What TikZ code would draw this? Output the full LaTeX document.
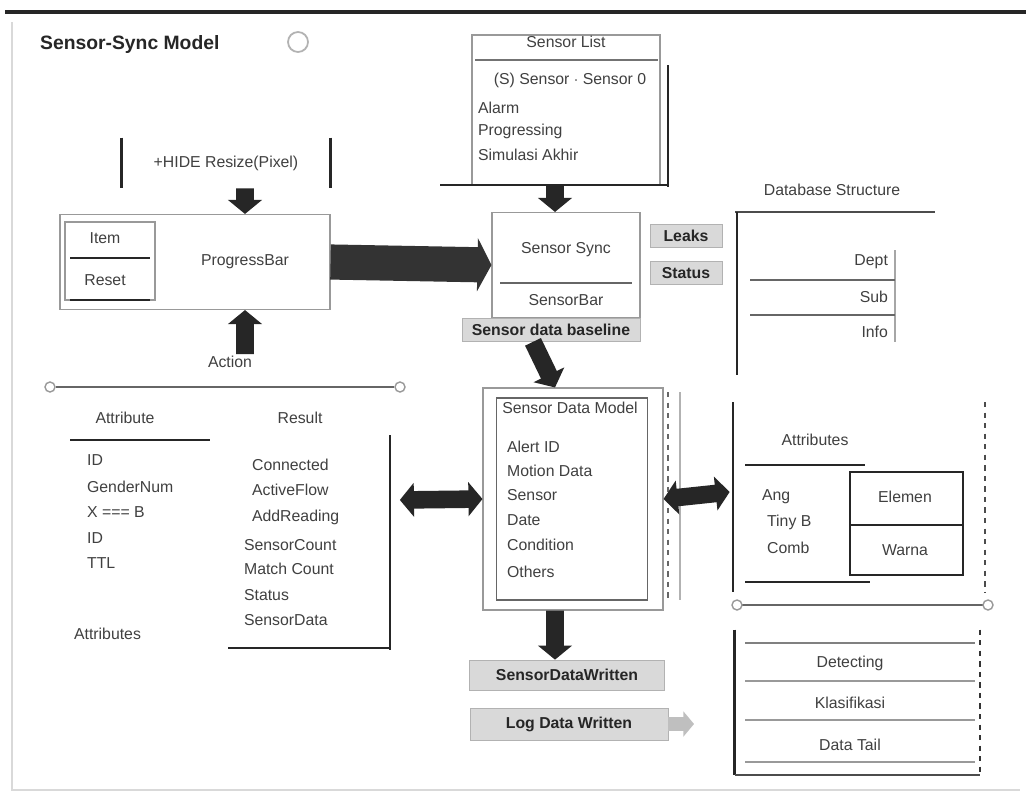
\documentclass[tikz,border=0pt]{standalone}
\usepackage{fontspec}
\setmainfont{Liberation Sans}
\usetikzlibrary{arrows.meta}
\begin{document}
\begin{tikzpicture}[x=0.2mm,y=-0.2mm,
 txt/.style={font=\fontsize{9}{10}\selectfont, inner sep=1pt, text=black!75},
 box/.style={draw=black!40, line width=0.6pt},
 fat/.style={draw=black!85, line width=10pt, -{Triangle[width=19pt,length=8pt]}},
 dfat/.style={draw=black!85, line width=10pt, {Triangle[width=19pt,length=8pt]}-{Triangle[width=19pt,length=8pt]}},
 rule/.style={draw=black!85, line width=1.4pt},
 thin/.style={draw=black!35, line width=0.6pt},
 banner/.style={fill=black!15, draw=black!30, inner sep=1pt, text=black!85, font=\fontsize{9}{10}\selectfont\bfseries},
 dot/.style={draw=black!40, line width=0.8pt},
]
\useasboundingbox (0,0) rectangle (1026,802);
\fill[white] (0,0) rectangle (1026,802);
% frame
\draw[line width=2.2pt, black!85] (5,12) -- (1026,12);
\draw[line width=1.5pt, black!15] (12,22) -- (12,790) -- (1020,790);

% title
\node[txt, anchor=west, text=black!85, font=\fontsize{11}{12}\selectfont\bfseries] (title) at (38,45) {Sensor-Sync Model};
\node[draw=black!30, circle, minimum size=4mm, line width=1pt] (tc) at (298,42) {};

% A
\node[txt, minimum width=41.6mm, minimum height=10mm] (A) at (226,163) {+HIDE Resize(Pixel)};
\draw[rule] (A.north west) -- (A.south west);
\draw[rule] (A.north east) -- (A.south east);

% B
\node[box, minimum width=54mm, minimum height=19mm] (B) at (195,262) {};
\node[txt] (Bt) at (245,262) {ProgressBar};
\node[box, minimum width=18mm, minimum height=15.6mm] (B1) at (110,261) {};
\node[txt] (B1a) at (105,238) {Item};
\node[txt] (B1b) at (105,280) {Reset};
\draw[rule] (70,258) -- (150,258);
\draw[rule] (70,300) -- (150,300);
\draw[fat] ([xshift=3.8mm]A.south) -- ([xshift=10mm]B.north);
\node[txt] (act) at (230,362) {Action};
\draw[fat] ([xshift=3mm]act.north) -- ([xshift=10mm]B.south);

% D
\node[box, minimum width=37.6mm, minimum height=30mm] (D) at (566,110) {};
\node[txt] (Dh) at (566,42) {Sensor List};
\draw[thin, black!55] (475,60) -- (658,60);
\node[txt] (D1) at (570,80) {(S) Sensor $\cdot$ Sensor 0};
\node[txt, anchor=west] (D2) at (476,108) {Alarm};
\node[txt, anchor=west] (D3) at (476,131) {Progressing};
\node[txt, anchor=west] (D4) at (476,155) {Simulasi Akhir};
\draw[rule] (668,65) -- (668,187);
\draw[rule] (440,185) -- (668,185);

% C
\node[box, minimum width=29.6mm, minimum height=21mm] (C) at (566,265) {};
\node[txt] (C1) at (566,250) {Sensor Sync};
\draw[thin, black!60] (500,283) -- (632,283);
\node[txt] (C2) at (566,300) {SensorBar};
\node[banner, minimum width=35.6mm, minimum height=4.6mm] (Cb) at (551,330) {Sensor data baseline};
\draw[fat] ([xshift=-2.2mm]D.south) -- ([xshift=-2.2mm]C.north);
\draw[draw=black!80, line width=20pt, -{Triangle[width=30pt,length=8pt]}] (B.east) -- (C.west);
\node[banner, minimum width=14.4mm, minimum height=4.6mm] (Lk) at (686,236) {Leaks};
\node[banner, minimum width=14.4mm, minimum height=4.6mm] (St) at (686,273) {Status};

% E
\node[txt] (Eh) at (832,190) {Database Structure};
\draw[thin, black!70] (735,212) -- (935,212);
\draw[rule] (737,212) -- (737,375);
\draw[thin] (895,250) -- (895,342);
\node[txt, anchor=east] (E1) at (890,262) {Dept};
\draw[thin, black!60] (750,280) -- (895,280);
\node[txt, anchor=east] (E2) at (890,297) {Sub};
\draw[thin, black!60] (750,315) -- (895,315);
\node[txt, anchor=east] (E3) at (890,332) {Info};

% G
\node[minimum width=71mm, minimum height=54mm] (G) at (222,522) {};
\draw[thin, black!60, line width=1.2pt] (56,387) -- (394,387);
\draw[dot] (50,387) circle[radius=1mm];
\draw[dot] (400,387) circle[radius=1mm];
\node[txt] (Gh1) at (125,418) {Attribute};
\node[txt] (Gh2) at (300,418) {Result};
\draw[rule] (70,440) -- (210,440);
\node[txt, anchor=west] (g1) at (85,460) {ID};
\node[txt, anchor=west] (g2) at (85,487) {GenderNum};
\node[txt, anchor=west] (g3) at (85,512) {X === B};
\node[txt, anchor=west] (g4) at (85,538) {ID};
\node[txt, anchor=west] (g5) at (85,563) {TTL};
\node[txt, anchor=west] (r1) at (250,465) {Connected};
\node[txt, anchor=west] (r2) at (250,490) {ActiveFlow};
\node[txt, anchor=west] (r3) at (250,517) {AddReading};
\node[txt, anchor=west] (r4) at (242,545) {SensorCount};
\node[txt, anchor=west] (r5) at (242,569) {Match Count};
\node[txt, anchor=west] (r6) at (242,595) {Status};
\node[txt, anchor=west] (r7) at (242,620) {SensorData};
\draw[rule] (390,435) -- (390,650);
\draw[rule] (228,648) -- (390,648);
\node[txt, anchor=west] (Gl) at (72,634) {Attributes};

% F
\node[box, minimum width=36mm, minimum height=44.4mm] (F) at (573,499) {};
\node[box, draw=black!60, minimum width=30.2mm, minimum height=40.4mm] (Fi) at (572,499) {};
\node[txt] (Fh) at (570,408) {Sensor Data Model};
\node[txt, anchor=west] (f1) at (505,447) {Alert ID};
\node[txt, anchor=west] (f2) at (505,471) {Motion Data};
\node[txt, anchor=west] (f3) at (505,495) {Sensor};
\node[txt, anchor=west] (f4) at (505,520) {Date};
\node[txt, anchor=west] (f5) at (505,545) {Condition};
\node[txt, anchor=west] (f6) at (505,572) {Others};
\draw[thin, dashed, black!60] (668,392) -- (668,600);
\draw[thin, black!30] (680,392) -- (680,600);
\draw[fat] ([xshift=-3.6mm]Cb.south) -- ([xshift=-3.6mm]F.north);
\draw[dfat] ([yshift=4.4mm]G.east) -- (F.west);

% H
\node[minimum width=52mm, minimum height=38.4mm] (H) at (860,496) {};
\draw[rule] (733,402) -- (733,592);
\draw[thin, dashed, black!70, line width=1pt] (985,402) -- (985,592);
\node[txt] (Hh) at (815,440) {Attributes};
\draw[rule] (745,465) -- (865,465);
\node[txt, anchor=west] (h1) at (760,497) {Ang};
\node[txt, anchor=west] (h2) at (765,522) {Tiny B};
\node[txt, anchor=west] (h3) at (765,548) {Comb};
\draw[rule] (850,472) rectangle (963,575);
\draw[rule] (850,525) -- (963,525);
\node[txt] (h4) at (905,497) {Elemen};
\node[txt] (h5) at (905,550) {Warna};
\draw[rule] (745,582) -- (870,582);
\draw[dfat] (F.east) -- ([yshift=0.8mm]H.west);

% separator
\draw[thin, black!60, line width=1.2pt] (742,605) -- (983,605);
\draw[dot] (737,605) circle[radius=1mm];
\draw[dot] (988,605) circle[radius=1mm];

% I
\node[minimum width=49mm, minimum height=29mm] (I) at (857.5,702.5) {};
\draw[rule] (I.north west) -- (I.south west);
\draw[thin, dashed, black!80, line width=1pt] (I.north east) -- (I.south east);
\draw[thin, black!50] (745,643) -- (975,643);
\node[txt] (i1) at (850,663) {Detecting};
\draw[thin, black!40] (745,681) -- (975,681);
\node[txt] (i2) at (850,703) {Klasifikasi};
\draw[thin, black!40] (745,720) -- (975,720);
\node[txt] (i3) at (850,745) {Data Tail};
\draw[thin, black!40] (745,762) -- (975,762);
\draw[thin, black!70, line width=1pt] (I.south west) -- (I.south east);

% J, K
\node[banner, minimum width=39mm, minimum height=6mm] (J) at (567,675) {SensorDataWritten};
\node[banner, minimum width=39.6mm, minimum height=6.4mm] (K) at (569,724) {Log Data Written};
\coordinate (Kend) at (694,724);
\draw[draw=black!25, line width=8pt, -{Triangle[width=14pt,length=6pt]}] (K.east) -- (Kend);
\draw[fat] ([xshift=-3.6mm]F.south) -- ([xshift=-2.4mm]J.north);
\end{tikzpicture}
\end{document}
